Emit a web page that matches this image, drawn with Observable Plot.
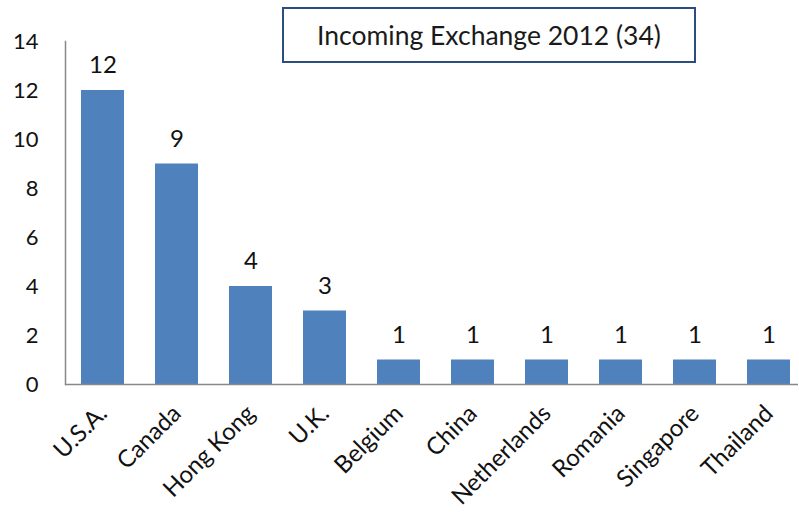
<!DOCTYPE html>
<html>
<head>
<meta charset="utf-8">
<script src="https://cdn.jsdelivr.net/npm/d3@7"></script>
<script src="https://cdn.jsdelivr.net/npm/@observablehq/plot@0.6"></script>
<style>
  body { margin: 0; background: #fff; }
  #wrap { position: relative; width: 799px; height: 515px; overflow: hidden; }
  #title {
    position: absolute; left: 282px; top: 7px; width: 410px; height: 52px;
    border: 2.5px solid #2C4D7F; background: #fff;
    font-family: Lato, sans-serif; font-size: 26.5px; color: #1a1a1a;
    display: flex; align-items: center; justify-content: center;
  }
</style>
</head>
<body>
<div id="wrap"></div>
<script>
const countries = ["U.S.A.", "Canada", "Hong Kong", "U.K.", "Belgium", "China", "Netherlands", "Romania", "Singapore", "Thailand"];
const counts = [12, 9, 4, 3, 1, 1, 1, 1, 1, 1];
const yTicks = [0, 2, 4, 6, 8, 10, 12, 14];
const titleText = "Incoming Exchange 2012 (34)";

const data = countries.map((c, i) => ({country: c, count: counts[i]}));

const chart = Plot.plot({
  width: 799,
  height: 515,
  marginLeft: 65,
  marginRight: 1,
  marginTop: 41,
  marginBottom: 131,
  style: {fontFamily: "Lato, sans-serif", fontSize: "22px", color: "#111", background: "#fff"},
  x: {domain: countries, range: [65, 805], paddingInner: 0.42, paddingOuter: 0.21, label: null},
  y: {domain: [0, 14], label: null},
  marks: [
    Plot.barY(data, {x: "country", y: "count", fill: "#4F81BD"}),
    Plot.frame({anchor: "left", stroke: "#888", strokeWidth: 1.5}),
    Plot.ruleY([0], {stroke: "#888", strokeWidth: 1.5}),
    Plot.axisY({ticks: yTicks, tickSize: 0, tickPadding: 27, fontSize: 22, label: null}),
    Plot.axisX({tickSize: 0, tickRotate: -45, tickPadding: 25, fontSize: 24, label: null}),
    Plot.text(data, {x: "country", y: "count", text: d => String(d.count), dy: -25, fontSize: 24, fill: "#111"})
  ]
});

const wrap = document.getElementById("wrap");
wrap.appendChild(chart);
const t = document.createElement("div");
t.id = "title";
t.textContent = titleText;
wrap.appendChild(t);
</script>
</body>
</html>
